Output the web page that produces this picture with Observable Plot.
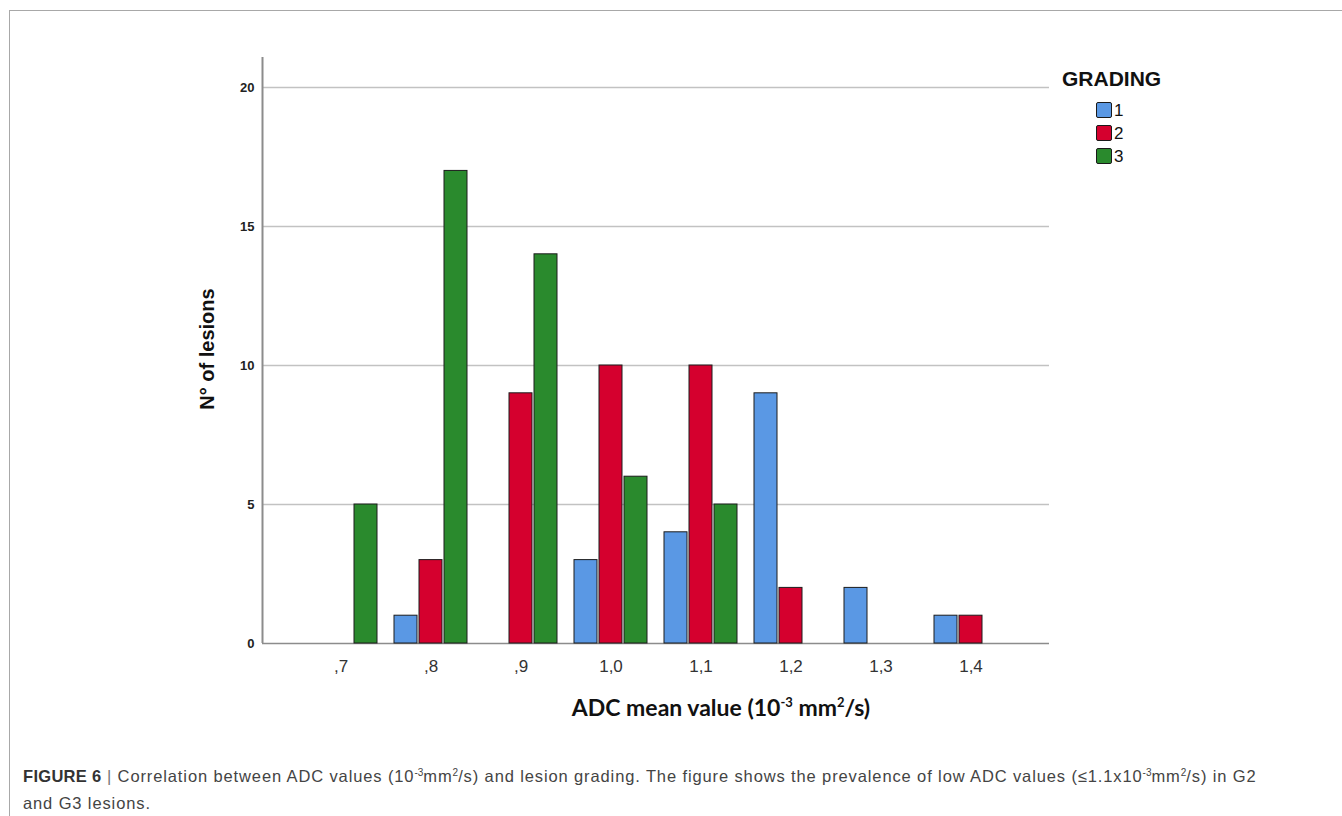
<!DOCTYPE html>
<html>
<head>
<meta charset="utf-8">
<script src="https://cdn.jsdelivr.net/npm/d3@7"></script>
<script src="https://cdn.jsdelivr.net/npm/@observablehq/plot@0.6"></script>
<style>
  html, body { margin: 0; padding: 0; background: #fff; overflow: hidden; }
  #page { position: relative; width: 1342px; height: 816px; overflow: hidden; }
  #frameBox { position: absolute; left: 9px; top: 10px; width: 1400px; height: 900px;
    border-top: 1.5px solid #a8a8a8; border-left: 1.5px solid #a8a8a8; }
  .layer { position: absolute; left: 0; top: 0; }
  #bg svg text { font-family: "Liberation Sans", Arial, sans-serif !important; font-size: 13px !important; font-weight: bold; fill: #222; }
  #fg svg text { font-family: "Liberation Sans", Arial, sans-serif !important; font-size: 17px !important; fill: #333; }
  #ylabel { position: absolute; left: 207px; top: 349px; transform: translate(-50%, -50%) rotate(-90deg);
    font: bold 20px "Liberation Sans", Arial, sans-serif; color: #111; white-space: nowrap; }
  #xlabel { position: absolute; left: 721px; top: 707px; transform: translate(-50%, -50%);
    font: bold 23px Lato, "Open Sans", sans-serif; color: #111; white-space: nowrap; }
  #xlabel sup { font-size: 13px; vertical-align: 9px; line-height: 0; }
  #legend { position: absolute; left: 1062px; top: 66px; font-family: "Liberation Sans", Arial, sans-serif; color: #111; }
  #legend .title { font-weight: bold; font-size: 21px; line-height: 26px; }
  #legend .item { position: absolute; left: 34px; height: 17px; font-size: 17px; line-height: 17px; white-space: nowrap; }
  #legend .sw { display: inline-block; width: 14px; height: 14px; border: 1.5px solid #1a1a1a; border-radius: 2px;
    vertical-align: top; margin-right: 2px; }
  #caption { position: absolute; left: 23px; top: 763px; font-family: "Liberation Sans", Arial, sans-serif;
    font-size: 16.5px; line-height: 27px; letter-spacing: 0.88px; color: #444; white-space: nowrap; }
  #caption b { color: #333; letter-spacing: 0.3px; }
  #caption .bar { color: #777; font-weight: 300; }
  #caption sup { font-size: 10px; vertical-align: 6px; line-height: 0; letter-spacing: 0; }
</style>
</head>
<body>
<div id="page">
  <div id="frameBox"></div>
  <div id="bg" class="layer"></div>
  <div id="fg" class="layer"></div>
  <div id="ylabel">N° of lesions</div>
  <div id="xlabel">ADC mean value (10<sup>-3</sup> mm<sup>2</sup>/s)</div>
  <div id="legend"></div>
  <div id="caption"><b>FIGURE 6</b> <span class="bar">|</span> Correlation between ADC values (10<sup>-3</sup>mm<sup>2</sup>/s) and lesion grading. The figure shows the prevalence of low ADC values (≤1.1x10<sup>-3</sup>mm<sup>2</sup>/s) in G2<br>and G3 lesions.</div>
</div>
<script>
// ---- data ----
const categories = [",7", ",8", ",9", "1,0", "1,1", "1,2", "1,3", "1,4"];
const grades = ["1", "2", "3"];
const grade1 = [0, 1, 0, 3, 4, 9, 2, 1];
const grade2 = [0, 3, 9, 10, 10, 2, 0, 1];
const grade3 = [5, 17, 14, 6, 5, 0, 0, 0];
const yTicks = [0, 5, 10, 15, 20];
const yMax = 21.08;
const gradeColors = ["#5a98e4", "#d5002e", "#2a8a2d"];
const legendTitle = "GRADING";

const series = [grade1, grade2, grade3];
const rows = [];
categories.forEach((c, i) => {
  grades.forEach((g, j) => {
    const v = series[j][i];
    if (v > 0) rows.push({cat: c, grade: g, count: v});
  });
});

// ---- layout ----
const W = 1342, H = 690;
const M = {left: 262, right: 293, top: 57, bottom: 47};

// background: grid, axis lines, y tick labels
const bg = Plot.plot({
  width: W, height: H,
  marginLeft: M.left, marginRight: M.right, marginTop: M.top, marginBottom: M.bottom,
  style: {background: "transparent", overflow: "visible", fontSize: "13px"},
  x: {domain: [0, 1], axis: null},
  y: {domain: [0, yMax], ticks: yTicks, tickSize: 0, tickPadding: 8, label: null, tickFormat: d => String(d)},
  marks: [
    Plot.ruleY(yTicks.filter(d => d > 0), {stroke: "#c2c2c2", strokeWidth: 1.3}),
    Plot.ruleY([0], {stroke: "#8c8c8c", strokeWidth: 1.6}),
    Plot.ruleX([0], {y1: 0, y2: yMax, stroke: "#8c8c8c", strokeWidth: 2})
  ]
});
document.getElementById("bg").appendChild(bg);

// foreground: clustered bars
const fg = Plot.plot({
  width: W, height: H,
  marginLeft: M.left, marginRight: M.right, marginTop: M.top, marginBottom: M.bottom,
  style: {background: "transparent", overflow: "visible", fontSize: "17px"},
  facet: {data: rows, x: "cat"},
  fx: {domain: categories, paddingInner: 0.17, paddingOuter: 0.43, label: null, tickSize: 0, tickPadding: 16},
  x: {domain: grades, axis: null, paddingInner: 0.08, paddingOuter: 0},
  y: {domain: [0, yMax], axis: null},
  color: {domain: grades, range: gradeColors},
  marks: [
    Plot.barY(rows, {x: "grade", y: "count", fill: "grade", stroke: "#1c1c1c", strokeWidth: 1})
  ]
});
document.getElementById("fg").appendChild(fg);

// legend
const leg = d3.select("#legend");
leg.append("div").attr("class", "title").text(legendTitle);
grades.forEach((g, j) => {
  const it = leg.append("div").attr("class", "item").style("top", (36 + j * 23) + "px");
  it.append("span").attr("class", "sw").style("background", gradeColors[j]);
  it.append("span").text(g);
});
</script>
</body>
</html>
